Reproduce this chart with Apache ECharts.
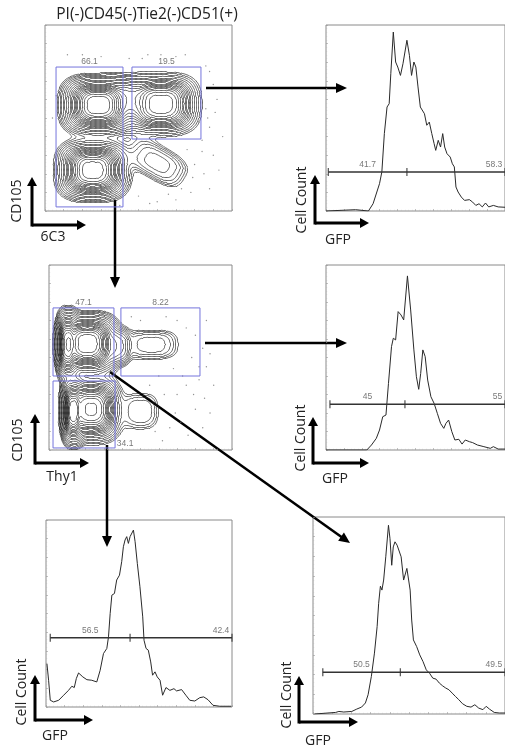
<!DOCTYPE html>
<html><head><meta charset="utf-8">
<script src="https://cdn.jsdelivr.net/npm/echarts@6/dist/echarts.min.js"></script>
<style>html,body{margin:0;padding:0;background:#fff}#c{width:505px;height:746px}</style>
</head><body><div id="c"></div>
<script>
// ---------- DATA ----------
// Contour populations: [centerX, centerY, spreadX, spreadY, weight, angleDeg] in channel units (0-100)
const popsTopLeft = [
  [28.5, 57, 7, 5.5, 1.0, 0],
  [62, 57.5, 7.8, 6.2, 0.4, 0],
  [45, 60, 5, 6, 0.06, 0],
  [25.5, 22, 7, 5.8, 0.7, 0],
  [60, 26, 11, 6, 0.015, -30]
];
const popsMidLeft = [
  [21, 57.5, 6, 5.8, 1.0, 0],
  [10, 57, 2.2, 7, 0.7, 0],
  [13, 21, 2.2, 6.5, 0.9, 0],
  [23, 22, 6, 6.5, 0.6, 0],
  [38, 56, 4, 6, 0.03, 0],
  [56, 57, 10, 5.5, 0.012, 0],
  [50, 21, 7, 7, 0.01, 0]
];
const dotsTopLeft = [[62,84],[70,83],[75,84],[30,83],[20,84],[45,82],[88,75],[90,68],[92,60],[86,55],[88,45],[84,38],[90,30],[80,25],[85,20],[78,10],[70,6],[60,5],[88,12],[93,22],[82,48],[76,33],[68,28],[50,8],[40,3],[6,62],[4,50],[12,84],[55,84],[95,40],[84,32],[79,18],[73,12],[66,9],[56,4],[87,50],[91,53],[83,62],[86,78],[52,82]];
const dotsMidLeft = [[64,72],[70,70],[75,66],[80,62],[84,55],[78,50],[86,45],[82,38],[75,35],[70,30],[85,28],[80,22],[72,15],[66,12],[84,12],[88,20],[60,40],[55,35],[90,35],[76,8],[62,5],[50,70],[45,72],[86,70],[68,44],[73,40],[79,30],[63,30],[69,20],[58,10],[82,45],[88,52]];
// Gates [x0, x1, y0, y1]
const gatesTopLeft = [[5.9, 41.7, 2.2, 77.4], [46.5, 83.4, 38.7, 77.4]];
const gateLabelsTopLeft = ['66.1', '19.5'];
const gatesMidLeft = [[2.2, 35.5, 40, 76.8], [39.3, 82.5, 40, 76.8], [2.2, 36.1, 1.1, 37.3]];
const gateLabelsMidLeft = ['47.1', '8.22', '34.1'];

// Histograms [GFP channel, cell count %max]
const histTopRight = [[0,0],[16.5,0.7],[23.7,0],[26.3,3.9],[29.9,14.7],[31.2,21],[32.6,41.6],[34.1,55.9],[35.3,57.7],[36.2,73.8],[37.6,96.2],[38.9,80.1],[40.1,77.4],[41.6,72.9],[43,79.2],[45.2,91.8],[46.6,83.7],[47.8,72.9],[49.1,80.1],[50.2,77.4],[51.4,66.7],[52.7,55.9],[53.8,55],[55,52.3],[56.3,46.1],[57.7,47.8],[59.1,41.6],[60.4,36.2],[61.3,32.6],[62.7,38],[64,34.4],[65.2,41.6],[66.3,34.4],[67.6,30.8],[69.4,29],[70.6,25.4],[71.7,23.7],[72.6,12.9],[73.8,10.2],[75.6,7.5],[77.4,5.7],[80.1,6.1],[81.9,4.8],[83.7,3],[85.5,3.9],[87.3,2.2],[89.1,4.3],[90.9,2.2],[93.5,3],[96.2,2.2],[100,2]];
const histMidRight = [[0,0],[22.8,0],[25.4,2.7],[28.1,6.3],[29.9,10.8],[31.7,18],[33.5,18.9],[34.9,36],[36.6,55.9],[37.6,60.4],[38.9,59.5],[40.3,74.8],[41.9,73],[43.4,70.3],[45.5,94.1],[47.3,75.7],[49.1,54.1],[50.5,39.6],[51.8,32.8],[52.9,41.4],[54.1,54.1],[55.4,50.5],[56.8,37.8],[58.6,28.8],[60.4,25.2],[62.2,19.8],[64,14.4],[65.8,11.7],[67,14.4],[68.5,16.2],[70.3,9.9],[72,5.4],[74.2,5.8],[76,3.2],[77.8,5.4],[80.1,4.5],[81.9,4],[84.6,2.7],[88.2,1.8],[91.8,0.9],[93.5,1.8],[96.2,0.5],[100,0.5]];
const histBottomLeft = [[0.5,23.2],[1.4,14.3],[2.3,3.6],[4.1,2.7],[6.8,3.6],[9.5,6.3],[12.1,8.9],[13.9,11.1],[15.2,10.4],[16.3,15.2],[17.5,18.2],[19.8,16.1],[22,14.6],[24.6,14.3],[27.3,13.4],[29.1,19.6],[30.9,28.6],[32.7,31.3],[33.6,37.5],[34.5,50],[35.4,59.8],[36.8,60.7],[38,67.9],[39.5,70.5],[40.7,77.7],[41.6,85.7],[42.5,89.3],[43.4,91.1],[44.3,87.5],[45.2,91.1],[46.1,90.2],[47,94.6],[47.9,88.4],[49.1,76.8],[50.5,64.3],[52,48.2],[52.7,35.7],[53.8,31.3],[55,30.4],[56.3,24.1],[57.3,17],[58.6,18.8],[59.8,16.1],[61.3,14.3],[62.7,6.3],[64.5,10.4],[66.6,8.9],[68.8,9.8],[70.2,8.6],[72.9,9.3],[75.2,6.3],[77.3,3.6],[80,3.2],[82.7,5],[84.8,5.4],[87.1,3.9],[89.8,0.9],[93.4,0.4],[99.6,0.4]];
const histBottomRight = [[0.8,0],[11.8,0.8],[13.5,1.3],[16,1],[20.2,1.3],[22.8,2.5],[25.3,3.5],[27.3,5.6],[28.7,9.8],[30.4,19.1],[32,30.9],[33.4,44.4],[34.2,56.2],[35.1,64.9],[35.9,62.9],[36.8,68],[37.9,79.8],[39.3,95.8],[40.1,89],[41,75.5],[41.8,84.8],[42.7,87.4],[43.8,85.7],[44.7,84.8],[45.9,79.8],[47.2,68],[48.1,67.1],[48.9,73.9],[49.7,74.7],[50.6,62.9],[51.4,47.7],[52.3,37.6],[54,34.2],[55.6,30],[57.3,26.6],[59,22.4],[60.7,20.7],[62.4,18.2],[64.1,17.7],[65.8,15.7],[67.5,14.3],[69.1,13.2],[70.8,12.3],[72.5,10.6],[74.2,8.9],[75.9,7.3],[77.9,5.2],[80.1,3.9],[82.3,3.5],[84.3,4.7],[86.3,3],[88.5,2.2],[90.2,3.9],[91.9,2.5],[94.4,0.8],[97,0.5],[100,0.5]];
// Histogram gates: [left, split, right, level]
const hgTopRight = [1.3, 45.2, 100, 21];
const hgMidRight = [2.2, 44.1, 100, 24.7];
const hgBottomLeft = [2.3, 45.2, 100, 37];
const hgBottomRight = [5.1, 45.5, 100, 21.2];
const hlTopRight = ['41.7', '58.3'];
const hlMidRight = ['45', '55'];
const hlBottomLeft = ['56.5', '42.4'];
const hlBottomRight = ['50.5', '49.5'];

// ---------- HELPERS ----------
const HALO_SPREAD = 1.7, HALO_WEIGHT = 0.08;
function contourSegments(pops, count, ratio, q) {
  const N = 150, s = 100 / N, v = [];
  const comps = [];
  pops.forEach(p => { comps.push(p); comps.push([p[0], p[1], p[2] * HALO_SPREAD, p[3] * HALO_SPREAD, p[4] * HALO_WEIGHT, p[5]]); });
  let max = 0;
  for (let j = 0; j <= N; j++) for (let i = 0; i <= N; i++) {
    const x = i * s, y = j * s; let d = 0;
    for (const p of comps) {
      const a = p[5] * Math.PI / 180, dx = x - p[0], dy = y - p[1];
      const u = Math.abs((dx * Math.cos(a) + dy * Math.sin(a)) / p[2]);
      const w = Math.abs((-dx * Math.sin(a) + dy * Math.cos(a)) / p[3]);
      const r2 = Math.pow(u * u * u + w * w * w, 2 / 3);
      d += p[4] * Math.exp(-0.5 * Math.pow(r2, q));
    }
    v.push(d); if (d > max) max = d;
  }
  const segs = [];
  for (let k = 1; k <= count; k++) {
    const L = max * Math.pow(ratio, k);
    for (let j = 0; j < N; j++) for (let i = 0; i < N; i++) {
      const a = v[j*(N+1)+i], b = v[j*(N+1)+i+1], c = v[(j+1)*(N+1)+i+1], d = v[(j+1)*(N+1)+i];
      const x0 = i * s, y0 = j * s, pts = [];
      if ((a > L) !== (b > L)) pts.push([x0 + s * (L - a) / (b - a), y0]);
      if ((b > L) !== (c > L)) pts.push([x0 + s, y0 + s * (L - b) / (c - b)]);
      if ((d > L) !== (c > L)) pts.push([x0 + s * (L - d) / (c - d), y0 + s]);
      if ((a > L) !== (d > L)) pts.push([x0, y0 + s * (L - a) / (d - a)]);
      if (pts.length === 2) segs.push({coords: [pts[0], pts[1]]});
      else if (pts.length === 4) { segs.push({coords: [pts[0], pts[1]]}); segs.push({coords: [pts[2], pts[3]]}); }
    }
  }
  return segs;
}
const grids = [
  {left: 45, top: 25, width: 187, height: 186},
  {left: 326, top: 25, width: 186, height: 186},
  {left: 49, top: 265, width: 183, height: 185},
  {left: 326, top: 265, width: 186, height: 185},
  {left: 46, top: 520, width: 186, height: 187},
  {left: 313, top: 517, width: 198, height: 197}
];
const axisBase = {type: 'value', min: 0, max: 100, interval: 10,
  axisLine: {show: false}, axisLabel: {show: false}, splitLine: {show: false},
  axisTick: {show: true, inside: true, length: 2, lineStyle: {color: '#999', width: 0.6}},
  minorTick: {show: true, splitNumber: 5, length: 1.2, lineStyle: {color: '#bbb', width: 0.5}}};
const xAxes = grids.map((g, i) => Object.assign({}, axisBase, {gridIndex: i}));
const yAxes = grids.map((g, i) => Object.assign({}, axisBase, {gridIndex: i}));
const series = [];
const GATE = '#7474dc', LABEL = '#555';
const smallFont = {fontFamily: 'Liberation Sans', fontSize: 8.5, color: LABEL};

function scatterPanel(idx, pops, dots, gates, labels, labelPos) {
  series.push({type: 'lines', coordinateSystem: 'cartesian2d', xAxisIndex: idx, yAxisIndex: idx,
    polyline: false, data: contourSegments(pops, 20, 0.75, 1.5), progressive: 0, silent: true,
    lineStyle: {color: '#1e1e1e', width: 0.75, opacity: 0.9}});
  series.push({type: 'scatter', xAxisIndex: idx, yAxisIndex: idx, data: dots, symbolSize: 1.4,
    itemStyle: {color: '#777'}, silent: true});
  gates.forEach((g, k) => {
    series.push({type: 'line', xAxisIndex: idx, yAxisIndex: idx, symbol: 'none', silent: true,
      data: [[g[0], g[2]], [g[1], g[2]], [g[1], g[3]], [g[0], g[3]], [g[0], g[2]]],
      lineStyle: {color: GATE, width: 1}});
  });
  series.push({type: 'scatter', xAxisIndex: idx, yAxisIndex: idx, symbolSize: 0, silent: true,
    data: gates.map((g, k) => ({name: labels[k], value: labelPos(g, k)})),
    label: Object.assign({show: true, formatter: '{b}', position: 'inside'}, smallFont)});
}
function histPanel(idx, data, gate, labels) {
  series.push({type: 'line', xAxisIndex: idx, yAxisIndex: idx, data: data, symbol: 'none', silent: true,
    lineStyle: {color: '#2a2a2a', width: 1}});
  series.push({type: 'line', xAxisIndex: idx, yAxisIndex: idx, symbol: 'none', silent: true,
    data: [[gate[0], gate[3]], [gate[2], gate[3]]], lineStyle: {color: '#333', width: 1.4}});
  series.push({type: 'scatter', xAxisIndex: idx, yAxisIndex: idx, symbol: 'rect', symbolSize: [1.3, 8], silent: true,
    data: [[gate[0], gate[3]], [gate[1], gate[3]], [gate[2], gate[3]]], itemStyle: {color: '#333'}});
  series.push({type: 'scatter', xAxisIndex: idx, yAxisIndex: idx, symbolSize: 0, silent: true,
    data: [{name: labels[0], value: [(gate[0] + gate[1]) / 2, gate[3]]}],
    label: Object.assign({show: true, formatter: '{b}', position: 'top', distance: 3}, smallFont)});
  series.push({type: 'scatter', xAxisIndex: idx, yAxisIndex: idx, symbolSize: 0, silent: true,
    data: [{name: labels[1], value: [gate[2] - 1.5, gate[3]]}],
    label: Object.assign({show: true, formatter: '{b}', position: 'top', distance: 3, align: 'right'}, smallFont)});
}
scatterPanel(0, popsTopLeft, dotsTopLeft, gatesTopLeft, gateLabelsTopLeft, (g) => [(g[0] + g[1]) / 2, g[3] + 2.8]);
histPanel(1, histTopRight, hgTopRight, hlTopRight);
scatterPanel(2, popsMidLeft, dotsMidLeft, gatesMidLeft, gateLabelsMidLeft,
  (g, k) => k === 2 ? [g[1] + 5.5, g[2] + 2.5] : [(g[0] + g[1]) / 2, g[3] + 2.8]);
histPanel(3, histMidRight, hgMidRight, hlMidRight);
histPanel(4, histBottomLeft, hgBottomLeft, hlBottomLeft);
histPanel(5, histBottomRight, hgBottomRight, hlBottomRight);

// ---------- DECORATION ----------
const graphic = [];
function arrow(x1, y1, x2, y2, w, hl, hw) {
  const L = Math.hypot(x2 - x1, y2 - y1), ux = (x2 - x1) / L, uy = (y2 - y1) / L;
  const bx = x2 - ux * hl, by = y2 - uy * hl;
  graphic.push({type: 'line', silent: true, shape: {x1: x1, y1: y1, x2: bx + ux, y2: by + uy}, style: {stroke: '#000', lineWidth: w}});
  graphic.push({type: 'polygon', silent: true, shape: {points: [[x2, y2], [bx - uy * hw, by + ux * hw], [bx + uy * hw, by - ux * hw]]}, style: {fill: '#000'}});
}
function txt(t, x, y, size, rot) {
  graphic.push({type: 'text', silent: true, x: x, y: y, rotation: rot || 0,
    style: {text: t, fill: '#222', font: size + 'px "Open Sans"', align: 'center', verticalAlign: 'middle'}});
}
function axesL(cx, cy, vy, hx, yl, xl, ylx, yly, xlx, xly) {
  graphic.push({type: 'line', silent: true, shape: {x1: cx, y1: cy, x2: hx - 6, y2: cy}, style: {stroke: '#000', lineWidth: 3}});
  graphic.push({type: 'line', silent: true, shape: {x1: cx, y1: cy + 1.5, x2: cx, y2: vy + 6}, style: {stroke: '#000', lineWidth: 3}});
  graphic.push({type: 'polygon', silent: true, shape: {points: [[hx, cy], [hx - 9, cy - 5], [hx - 9, cy + 5]]}, style: {fill: '#000'}});
  graphic.push({type: 'polygon', silent: true, shape: {points: [[cx, vy], [cx - 5, vy + 9], [cx + 5, vy + 9]]}, style: {fill: '#000'}});
  txt(yl, ylx, yly, 14, Math.PI / 2);
  txt(xl, xlx, xly, 14, 0);
}
axesL(32, 225, 177, 86, 'CD105', '6C3', 17, 201, 53, 237);
axesL(315, 223, 175, 369, 'Cell Count', 'GFP', 302, 200, 338, 240);
axesL(35, 463, 414, 89, 'CD105', 'Thy1', 18, 440, 62, 477);
axesL(313, 463, 417, 369, 'Cell Count', 'GFP', 301, 438, 335, 479);
axesL(35, 720, 675, 93, 'Cell Count', 'GFP', 22, 692, 55, 736);
axesL(299, 722, 676, 358, 'Cell Count', 'GFP', 287, 695, 318, 741);
arrow(206, 88, 347, 88, 2.5, 11, 5);
arrow(115, 200, 115, 288, 2.5, 11, 5);
arrow(205, 343, 347, 343, 2.5, 11, 5);
arrow(110, 372, 350, 543, 2.5, 11, 5);
arrow(107, 445, 107, 547, 2.5, 11, 5);
txt('PI(-)CD45(-)Tie2(-)CD51(+)', 147, 15, 15.5);

const chart = echarts.init(document.getElementById('c'), null, {renderer: 'canvas'});
chart.setOption({
  animation: false,
  backgroundColor: '#fff',
  grid: grids.map(g => Object.assign({show: true, borderColor: '#8a8a8a', borderWidth: 1, backgroundColor: 'transparent'}, g)),
  xAxis: xAxes, yAxis: yAxes, series: series, graphic: graphic
});
</script></body></html>
